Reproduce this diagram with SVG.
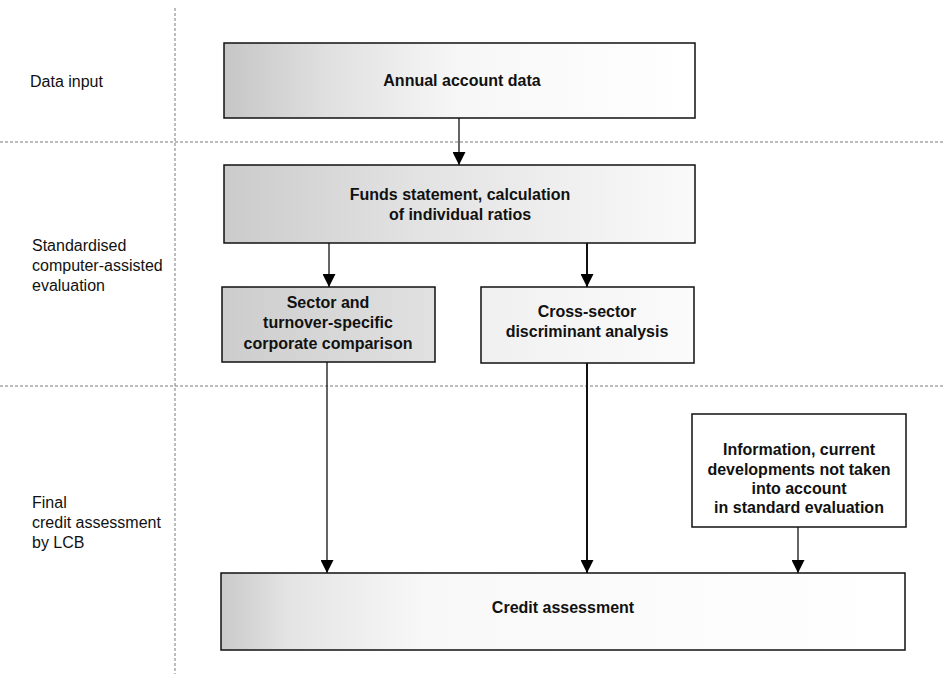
<svg xmlns="http://www.w3.org/2000/svg" width="944" height="674" viewBox="0 0 944 674">
  <defs>
    <linearGradient id="gAnnual" x1="0" y1="0" x2="1" y2="0">
      <stop offset="0" stop-color="#c6c6c6"/>
      <stop offset="0.22" stop-color="#e0e0e0"/>
      <stop offset="0.5" stop-color="#f7f7f7"/>
      <stop offset="1" stop-color="#ffffff"/>
    </linearGradient>
    <linearGradient id="gFunds" x1="0" y1="0" x2="1" y2="0">
      <stop offset="0" stop-color="#cbcbcb"/>
      <stop offset="0.4" stop-color="#e2e2e2"/>
      <stop offset="0.8" stop-color="#f2f2f2"/>
      <stop offset="1" stop-color="#fafafa"/>
    </linearGradient>
    <linearGradient id="gSector" x1="0" y1="0" x2="1" y2="0">
      <stop offset="0" stop-color="#cdcdcd"/>
      <stop offset="1" stop-color="#e1e1e1"/>
    </linearGradient>
    <linearGradient id="gCross" x1="0" y1="0" x2="1" y2="0">
      <stop offset="0" stop-color="#f0f0f0"/>
      <stop offset="1" stop-color="#fbfbfb"/>
    </linearGradient>
    <linearGradient id="gCredit" x1="0" y1="0" x2="1" y2="0">
      <stop offset="0" stop-color="#cacaca"/>
      <stop offset="0.1" stop-color="#e4e4e4"/>
      <stop offset="0.3" stop-color="#f8f8f8"/>
      <stop offset="1" stop-color="#ffffff"/>
    </linearGradient>
    <marker id="arr" viewBox="0 0 13 13" refX="13" refY="6.5" markerWidth="13" markerHeight="13" markerUnits="userSpaceOnUse" orient="auto">
      <path d="M0,0 L13,6.5 L0,13 Z" fill="#000"/>
    </marker>
  </defs>
  <style>
    .box { stroke: #111; stroke-width: 1.5; }
    .lbl { font-family: "Liberation Sans", Arial, sans-serif; font-size: 16px; font-weight: bold; fill: #111; text-anchor: middle; }
    .side { font-family: "Liberation Sans", Arial, sans-serif; font-size: 16px; fill: #111; }
    .sep { stroke: #7a7a7a; stroke-width: 1; stroke-dasharray: 3 2; fill: none; }
    .conn { stroke: #111; stroke-width: 1.3; fill: none; }
    .thick { stroke-width: 2; }
  </style>

  <rect width="944" height="674" fill="#fff"/>

  <g id="separators">
    <line class="sep" x1="175" y1="8" x2="175" y2="674"/>
    <line class="sep" x1="0" y1="142" x2="944" y2="142"/>
    <line class="sep" x1="0" y1="386" x2="944" y2="386"/>
  </g>

  <g id="side-labels">
    <text class="side" x="30" y="87">Data input</text>
    <text class="side" x="32" y="251">Standardised</text>
    <text class="side" x="32" y="271">computer-assisted</text>
    <text class="side" x="32" y="291">evaluation</text>
    <text class="side" x="32" y="508">Final</text>
    <text class="side" x="32" y="528">credit assessment</text>
    <text class="side" x="32" y="548">by LCB</text>
  </g>

  <g id="connectors">
    <line class="conn" x1="459" y1="118" x2="459" y2="165" marker-end="url(#arr)"/>
    <line class="conn" x1="329" y1="243" x2="329" y2="287" marker-end="url(#arr)"/>
    <line class="conn thick" x1="587" y1="243" x2="587" y2="287" marker-end="url(#arr)"/>
    <line class="conn" x1="327" y1="362" x2="327" y2="573" marker-end="url(#arr)"/>
    <line class="conn thick" x1="587" y1="363" x2="587" y2="573" marker-end="url(#arr)"/>
    <line class="conn" x1="798" y1="527" x2="798" y2="573" marker-end="url(#arr)"/>
  </g>

  <g id="annual">
    <rect class="box" x="224" y="43" width="471" height="75" fill="url(#gAnnual)"/>
    <text class="lbl" x="462" y="86">Annual account data</text>
  </g>

  <g id="funds">
    <rect class="box" x="224" y="165" width="471" height="78" fill="url(#gFunds)"/>
    <text class="lbl" x="460" y="200">Funds statement, calculation</text>
    <text class="lbl" x="460" y="220">of individual ratios</text>
  </g>

  <g id="sector">
    <rect class="box" x="222" y="287" width="213" height="75" fill="url(#gSector)"/>
    <text class="lbl" x="328" y="308">Sector and</text>
    <text class="lbl" x="328" y="328">turnover-specific</text>
    <text class="lbl" x="328" y="349">corporate comparison</text>
  </g>

  <g id="cross">
    <rect class="box" x="481" y="287" width="213" height="76" fill="url(#gCross)"/>
    <text class="lbl" x="587" y="317">Cross-sector</text>
    <text class="lbl" x="587" y="337">discriminant analysis</text>
  </g>

  <g id="info">
    <rect class="box" x="692" y="414" width="214" height="113" fill="#fff"/>
    <text class="lbl" x="799" y="455">Information, current</text>
    <text class="lbl" x="799" y="475">developments not taken</text>
    <text class="lbl" x="799" y="494">into account</text>
    <text class="lbl" x="799" y="513">in standard evaluation</text>
  </g>

  <g id="credit">
    <rect class="box" x="221" y="573" width="684" height="77" fill="url(#gCredit)"/>
    <text class="lbl" x="563" y="613">Credit assessment</text>
  </g>
</svg>
